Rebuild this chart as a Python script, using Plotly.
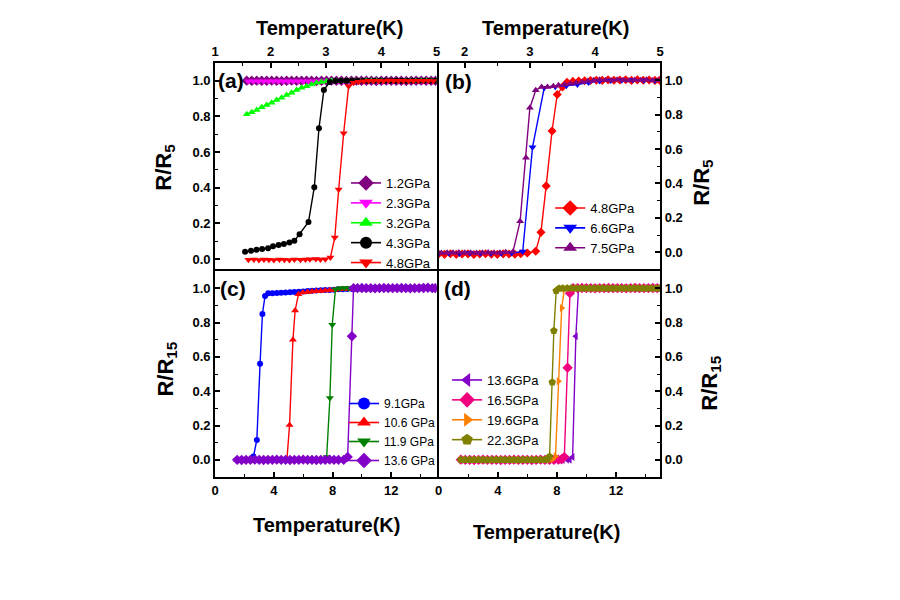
import plotly.graph_objects as go

# ---------------- Panel (a) data: R/R5 vs T (K) ----------------
A_T_12 = [1.57, 1.66, 1.75, 1.84, 1.93, 2.02, 2.11, 2.20, 2.29, 2.38, 2.47, 2.56, 2.65, 2.74, 2.83, 2.92, 3.01,
          3.10, 3.19, 3.28, 3.37, 3.46, 3.55, 3.64, 3.73, 3.82, 3.91, 4.00, 4.09, 4.18, 4.27, 4.36, 4.45, 4.54,
          4.63, 4.72, 4.81, 4.90, 4.98]
A_R_12 = [1.001, 1.000, 1.001, 1.000, 1.000, 1.001, 1.000, 0.999, 1.000, 1.001, 1.000, 1.000, 1.001, 1.000, 0.999,
          1.000, 1.000, 1.001, 1.000, 1.000, 0.999, 1.000, 1.001, 1.000, 1.000, 1.000, 0.999, 1.000, 1.001, 1.000,
          1.000, 1.000, 0.999, 1.000, 1.000, 1.001, 1.000, 1.000, 1.000]

A_T_23 = [1.60, 1.69, 1.78, 1.87, 1.96, 2.05, 2.14, 2.23, 2.32, 2.41, 2.50, 2.59, 2.68, 2.77, 2.86, 2.95, 3.04,
          3.13, 3.22, 3.31, 3.40, 3.49, 3.58, 3.67, 3.76, 3.85, 3.94, 4.03, 4.12, 4.21, 4.30, 4.39, 4.48, 4.57,
          4.66, 4.75, 4.84, 4.93]
A_R_23 = [0.997, 0.998, 0.997, 0.998, 0.998, 0.997, 0.998, 0.998, 0.997, 0.998, 0.998, 0.997, 0.998, 0.998, 0.997,
          0.998, 0.998, 0.997, 0.998, 0.998, 0.997, 0.998, 0.998, 0.997, 0.998, 0.998, 0.997, 0.998, 0.998, 0.997,
          0.998, 0.998, 0.997, 0.998, 0.998, 0.997, 0.998, 0.998]

A_T_32 = [1.57, 1.66, 1.75, 1.84, 1.93, 2.02, 2.11, 2.20, 2.29, 2.38, 2.47, 2.56, 2.65, 2.74, 2.83, 2.92, 3.01,
          3.10, 3.19, 3.28, 3.37, 3.46, 3.55, 3.64, 3.73, 3.82, 3.91, 4.00, 4.09, 4.18, 4.27, 4.36, 4.45, 4.54,
          4.63, 4.72, 4.81, 4.90, 4.99]
A_R_32 = [0.812, 0.823, 0.836, 0.851, 0.864, 0.877, 0.892, 0.905, 0.920, 0.933, 0.948, 0.961, 0.970, 0.980, 0.989,
          0.994, 0.998, 1.000, 0.999, 1.000, 1.001, 1.000, 1.000, 0.999, 1.000, 1.001, 1.000, 1.000, 0.999, 1.000,
          1.001, 1.000, 1.000, 1.000, 0.999, 1.000, 1.001, 1.000, 1.000]

A_T_43 = [1.54, 1.647, 1.747, 1.848, 1.955, 2.044, 2.145, 2.24, 2.34, 2.43, 2.524, 2.685, 2.79, 2.874, 2.963, 3.07,
          3.17, 3.27, 3.37, 3.47, 3.57, 3.67, 3.77, 3.87, 3.97, 4.07, 4.17, 4.27, 4.37, 4.47, 4.57, 4.67, 4.77,
          4.87, 4.97]
A_R_43 = [0.041, 0.046, 0.052, 0.056, 0.061, 0.071, 0.078, 0.084, 0.093, 0.102, 0.139, 0.208, 0.403, 0.734, 0.948,
          0.994, 0.999, 1.000, 1.000, 1.001, 1.000, 1.000, 0.999, 1.000, 1.000, 1.001, 1.000, 1.000, 1.000, 0.999,
          1.000, 1.000, 1.001, 1.000, 1.000]

A_T_48 = [1.60, 1.70, 1.79, 1.88, 1.97, 2.06, 2.16, 2.25, 2.34, 2.43, 2.54, 2.63, 2.71, 2.82, 2.90, 2.99, 3.08,
          3.16, 3.23, 3.32, 3.41, 3.50, 3.59, 3.68, 3.77, 3.86, 3.95, 4.04, 4.13, 4.22, 4.31, 4.40, 4.49, 4.58,
          4.67, 4.76, 4.85, 4.94]
A_R_48 = [-0.004, -0.002, -0.005, -0.003, -0.004, -0.006, -0.003, -0.004, -0.005, -0.002, -0.004, -0.003, -0.001,
          0.000, -0.002, -0.001, 0.008, 0.121, 0.390, 0.706, 0.970, 0.989, 0.995, 0.998, 1.000, 1.001, 1.000, 0.999,
          1.002, 1.000, 1.001, 1.000, 0.999, 1.000, 1.001, 1.000, 1.000, 0.999]

# ---------------- Panel (b) data ----------------
B_T_48 = [1.60, 1.69, 1.78, 1.87, 1.96, 2.05, 2.14, 2.23, 2.32, 2.41, 2.50, 2.59, 2.68, 2.77, 2.86, 2.96, 3.09,
          3.17, 3.25, 3.34, 3.42, 3.50, 3.57, 3.66, 3.75, 3.84, 3.93, 4.02, 4.11, 4.20, 4.29, 4.38, 4.47, 4.56,
          4.65, 4.74, 4.83, 4.92, 4.99]
B_R_48 = [-0.010, -0.012, -0.008, -0.012, -0.010, -0.009, -0.013, -0.010, -0.008, -0.011, -0.012, -0.009, -0.010,
          -0.011, -0.008, -0.004, 0.006, 0.116, 0.386, 0.705, 0.917, 0.961, 0.988, 0.993, 0.995, 0.997, 0.998, 1.000,
          0.999, 1.002, 1.000, 1.001, 1.003, 0.999, 1.002, 1.000, 1.001, 0.999, 1.000]

B_T_66 = [1.60, 1.76, 1.92, 2.08, 2.24, 2.40, 2.56, 2.72, 2.89, 3.04, 3.22, 3.39, 3.56, 3.73, 3.90, 4.07, 4.24,
          4.41, 4.58, 4.75, 4.92]
B_R_66 = [-0.006, -0.005, -0.007, -0.004, -0.006, -0.005, -0.006, -0.004, 0.004, 0.610, 0.956, 0.962, 0.968, 0.975,
          0.986, 0.995, 0.999, 1.000, 1.001, 1.000, 0.999]

B_T_75 = [1.64, 1.73, 1.82, 1.91, 2.00, 2.09, 2.18, 2.27, 2.36, 2.45, 2.54, 2.63, 2.74, 2.85, 2.94, 3.00, 3.09,
          3.18, 3.27, 3.36, 3.44, 3.53, 3.62, 3.71, 3.80, 3.89, 3.98, 4.07, 4.16, 4.25, 4.34, 4.43, 4.52, 4.61,
          4.70, 4.79, 4.88, 4.97]
B_R_75 = [-0.004, -0.002, -0.003, -0.001, -0.003, -0.002, -0.004, -0.002, -0.001, -0.003, -0.002, 0.000, 0.003,
          0.180, 0.550, 0.840, 0.942, 0.961, 0.961, 0.965, 0.970, 0.975, 0.980, 0.985, 0.990, 0.995, 1.000, 1.003,
          1.000, 0.998, 1.002, 1.000, 0.999, 1.001, 1.000, 1.002, 0.999, 1.000]

# ---------------- Panel (c) data: R/R15 ----------------
C_T_91 = [1.5, 1.8, 2.1, 2.4, 2.61, 2.84, 3.06, 3.22, 3.40, 3.62, 3.9, 4.2, 4.5, 4.8, 5.1, 5.4, 5.7, 6.0, 6.3, 6.6,
          6.9, 7.2, 7.5, 7.8, 8.1, 8.4, 8.7, 9.0, 9.3, 9.6, 9.9, 10.2, 10.5, 10.8, 11.1, 11.4, 11.7, 12.0, 12.3,
          12.6, 12.9, 13.2, 13.5, 13.8, 14.1, 14.4, 14.7, 15.0]
C_R_91 = [0.000, 0.001, 0.000, 0.001, 0.020, 0.116, 0.560, 0.850, 0.955, 0.970, 0.971, 0.972, 0.974, 0.975, 0.976,
          0.978, 0.979, 0.981, 0.983, 0.985, 0.986, 0.988, 0.989, 0.990, 0.991, 0.993, 0.994, 0.995, 0.996, 0.997,
          0.998, 0.998, 0.999, 1.000, 1.000, 1.001, 1.000, 1.000, 1.002, 1.000, 1.001, 1.000, 1.000, 1.001, 1.004,
          1.002, 1.000, 1.000]

C_T_106 = [1.5, 1.8, 2.1, 2.4, 2.7, 3.0, 3.3, 3.6, 3.9, 4.2, 4.5, 4.89, 5.07, 5.30, 5.45, 5.68, 5.97, 6.3, 6.6,
           6.9, 7.2, 7.5, 7.8, 8.1, 8.4, 8.7, 9.0, 9.3, 9.6, 9.9, 10.2, 10.5, 10.8, 11.1, 11.4, 11.7, 12.0, 12.3,
           12.6, 12.9, 13.2, 13.5, 13.8, 14.1, 14.4, 14.7, 15.0]
C_R_106 = [0.000, -0.001, 0.000, 0.001, 0.000, -0.001, 0.000, 0.001, 0.000, 0.000, -0.001, 0.002, 0.203, 0.700,
           0.870, 0.965, 0.975, 0.978, 0.980, 0.982, 0.984, 0.986, 0.988, 0.990, 0.992, 0.994, 0.995, 0.996, 0.997,
           0.998, 0.999, 1.000, 0.999, 1.000, 1.001, 1.000, 0.999, 1.000, 1.001, 1.000, 1.000, 0.999, 1.000, 1.001,
           1.000, 1.000, 1.000]

C_T_119 = [1.5, 1.8, 2.1, 2.4, 2.7, 3.0, 3.3, 3.6, 3.9, 4.2, 4.5, 4.8, 5.1, 5.4, 5.7, 6.0, 6.3, 6.6, 6.9, 7.2,
           7.45, 7.60, 7.82, 7.98, 8.20, 8.5, 8.8, 9.1, 9.4, 9.7, 10.0, 10.3, 10.6, 10.9, 11.2, 11.5, 11.8, 12.1,
           12.4, 12.7, 13.0, 13.3, 13.6, 13.9, 14.2, 14.5, 14.8]
C_R_119 = [0.000, 0.001, 0.000, -0.001, 0.000, 0.001, 0.000, 0.000, -0.001, 0.000, 0.001, 0.000, 0.000, -0.001,
           0.000, 0.001, 0.000, 0.000, 0.001, 0.000, 0.002, 0.017, 0.360, 0.787, 0.994, 1.000, 1.001, 1.000, 0.999,
           1.000, 1.000, 1.001, 1.000, 1.000, 0.999, 1.000, 1.001, 1.000, 1.000, 1.000, 0.999, 1.000, 1.001, 1.000,
           1.000, 1.000, 1.000]

C_T_136 = [1.5, 1.8, 2.1, 2.4, 2.7, 3.0, 3.3, 3.6, 3.9, 4.2, 4.5, 4.8, 5.1, 5.4, 5.7, 6.0, 6.3, 6.6, 6.9, 7.2,
           7.5, 7.8, 8.1, 8.4, 8.76, 9.03, 9.32, 9.43, 9.7, 10.0, 10.3, 10.6, 10.9, 11.2, 11.5, 11.8, 12.1, 12.4,
           12.7, 13.0, 13.3, 13.6, 13.9, 14.2, 14.5, 14.8, 15.0]
C_R_136 = [0.000, -0.001, 0.000, 0.000, 0.001, 0.000, -0.001, 0.000, 0.000, 0.001, 0.000, 0.000, -0.001, 0.000,
           0.000, 0.001, 0.000, 0.000, -0.001, 0.000, 0.000, 0.001, 0.000, 0.000, 0.000, 0.017, 0.720, 1.000, 1.000,
           1.001, 1.000, 1.000, 0.999, 1.000, 1.001, 1.000, 1.000, 1.000, 1.001, 1.000, 0.999, 1.000, 1.000, 1.001,
           1.002, 1.000, 1.000]

# ---------------- Panel (d) data ----------------
D_T_136 = [1.5, 1.8, 2.1, 2.4, 2.7, 3.0, 3.3, 3.6, 3.9, 4.2, 4.5, 4.8, 5.1, 5.4, 5.7, 6.0, 6.3, 6.6, 6.9, 7.2,
           7.5, 7.8, 8.1, 8.4, 8.7, 8.88, 9.07, 9.29, 9.47, 9.8, 10.1, 10.4, 10.7, 11.0, 11.3, 11.6, 11.9, 12.2,
           12.5, 12.8, 13.1, 13.4, 13.7, 14.0, 14.3, 14.6, 14.9]
D_R_136 = [0.000, 0.000, 0.001, 0.000, -0.001, 0.000, 0.000, 0.001, 0.000, 0.000, 0.000, -0.001, 0.000, 0.001,
           0.000, 0.000, 0.000, -0.001, 0.000, 0.000, 0.001, 0.000, 0.000, -0.001, 0.000, 0.000, 0.017, 0.720, 1.000,
           1.000, 1.001, 1.000, 1.000, 1.000, 0.999, 1.000, 1.000, 1.001, 1.000, 1.000, 1.000, 0.999, 1.000, 1.000,
           1.001, 1.000, 1.000]

D_T_165 = [1.5, 1.8, 2.1, 2.4, 2.7, 3.0, 3.3, 3.6, 3.9, 4.2, 4.5, 4.8, 5.1, 5.4, 5.7, 6.0, 6.3, 6.6, 6.9, 7.2,
           7.5, 7.8, 8.1, 8.32, 8.51, 8.73, 8.89, 9.10, 9.4, 9.7, 10.0, 10.3, 10.6, 10.9, 11.2, 11.5, 11.8, 12.1,
           12.4, 12.7, 13.0, 13.3, 13.6, 13.9, 14.2, 14.5, 14.8]
D_R_165 = [0.001, 0.000, 0.000, -0.001, 0.000, 0.001, 0.000, 0.000, 0.000, -0.001, 0.000, 0.000, 0.001, 0.000,
           0.000, 0.000, -0.001, 0.000, 0.001, 0.000, 0.000, 0.000, 0.001, 0.003, 0.017, 0.536, 0.971, 1.000, 1.000,
           1.001, 1.000, 1.000, 0.999, 1.000, 1.000, 1.001, 1.000, 1.000, 1.000, 0.999, 1.000, 1.001, 1.000, 1.000,
           1.000, 1.001, 1.000]

D_T_196 = [1.5, 1.8, 2.1, 2.4, 2.7, 3.0, 3.3, 3.6, 3.9, 4.2, 4.5, 4.8, 5.1, 5.4, 5.7, 6.0, 6.3, 6.6, 6.9, 7.2,
           7.5, 7.72, 7.91, 8.11, 8.33, 8.51, 8.8, 9.1, 9.4, 9.7, 10.0, 10.3, 10.6, 10.9, 11.2, 11.5, 11.8, 12.1,
           12.4, 12.7, 13.0, 13.3, 13.6, 13.9, 14.2, 14.5, 14.8]
D_R_196 = [0.000, 0.001, 0.000, 0.000, 0.000, -0.001, 0.000, 0.000, 0.001, 0.000, 0.000, 0.000, -0.001, 0.000,
           0.000, 0.001, 0.000, 0.000, 0.000, 0.000, 0.001, 0.004, 0.020, 0.458, 0.884, 0.996, 1.000, 1.000, 1.001,
           1.000, 1.000, 1.000, 0.999, 1.000, 1.000, 1.001, 1.000, 1.000, 1.000, 1.000, 0.999, 1.000, 1.000, 1.001,
           1.000, 1.000, 1.000]

D_T_223 = [1.5, 1.8, 2.1, 2.4, 2.7, 3.0, 3.3, 3.6, 3.9, 4.2, 4.5, 4.8, 5.1, 5.4, 5.7, 6.0, 6.3, 6.6, 6.9, 7.2,
           7.35, 7.51, 7.69, 7.80, 7.96, 8.15, 8.40, 8.7, 9.0, 9.3, 9.6, 9.9, 10.2, 10.5, 10.8, 11.1, 11.4, 11.7,
           12.0, 12.3, 12.6, 12.9, 13.2, 13.5, 13.8, 14.1, 14.4, 14.7, 14.95]
D_R_223 = [0.000, 0.000, 0.001, 0.000, 0.000, 0.000, -0.001, 0.000, 0.000, 0.001, 0.000, 0.000, 0.000, -0.001,
           0.000, 0.000, 0.001, 0.000, 0.000, 0.000, 0.002, 0.019, 0.452, 0.752, 0.985, 0.998, 1.000, 1.000, 1.001,
           1.000, 1.000, 1.000, 0.999, 1.000, 1.000, 1.001, 1.000, 1.000, 1.000, 0.999, 1.000, 1.000, 1.001, 1.000,
           1.000, 1.000, 1.000, 1.000, 1.000]

X_TICKS_AB = [1, 2, 3, 4, 5]
X_TICKS_CD = [0, 4, 8, 12]
Y_TICKS = [0.0, 0.2, 0.4, 0.6, 0.8, 1.0]

# series: (panel, name, T, R, color, symbol, marker size)
SERIES = [
    ("a", "1.2GPa", A_T_12, A_R_12, "#800080", "diamond", 8),
    ("a", "2.3GPa", A_T_23, A_R_23, "#FF00FF", "triangle-down", 7),
    ("a", "3.2GPa", A_T_32, A_R_32, "#00FF00", "triangle-up", 7),
    ("a", "4.3GPa", A_T_43, A_R_43, "#000000", "circle", 6),
    ("a", "4.8GPa", A_T_48, A_R_48, "#FF0000", "triangle-down", 7),
    ("b", "4.8GPa", B_T_48, B_R_48, "#FF0000", "diamond", 7),
    ("b", "6.6GPa", B_T_66, B_R_66, "#0000FF", "triangle-down", 7),
    ("b", "7.5GPa", B_T_75, B_R_75, "#800080", "triangle-up", 7),
    ("c", "9.1GPa", C_T_91, C_R_91, "#0000FF", "circle", 6),
    ("c", "10.6 GPa", C_T_106, C_R_106, "#FF0000", "triangle-up", 7),
    ("c", "11.9 GPa", C_T_119, C_R_119, "#008000", "triangle-down", 7),
    ("c", "13.6 GPa", C_T_136, C_R_136, "#8200C8", "diamond", 8),
    ("d", "13.6GPa", D_T_136, D_R_136, "#8200C8", "triangle-left", 7),
    ("d", "16.5GPa", D_T_165, D_R_165, "#F0007F", "diamond", 8),
    ("d", "19.6GPa", D_T_196, D_R_196, "#FF8000", "triangle-right", 7),
    ("d", "22.3GPa", D_T_223, D_R_223, "#808000", "pentagon", 8),
]

W, H = 900, 600
OFF = 8  # page body margin
FONT = "Liberation Sans, Arial, sans-serif"


def px(x):
    return (x - OFF) / W


def py(y):
    return 1 - (y - OFF) / H


AXES = {"a": ("x", "y", "legend"), "b": ("x2", "y2", "legend2"),
        "c": ("x3", "y3", "legend3"), "d": ("x4", "y4", "legend4")}

fig = go.Figure()
for panel, name, T, R, color, symbol, size in SERIES:
    xa, ya, lg = AXES[panel]
    fig.add_trace(go.Scatter(
        x=T, y=R, name=name, mode="lines+markers", xaxis=xa, yaxis=ya, showlegend=False,
        line=dict(color=color, width=1.4),
        marker=dict(color=color, symbol=symbol, size=size),
    ))
# legend keys (no data of their own): larger symbols as in the original legends
for panel, name, T, R, color, symbol, size in SERIES:
    xa, ya, lg = AXES[panel]
    fig.add_trace(go.Scatter(
        x=[None], y=[None], name=name, mode="lines+markers", xaxis=xa, yaxis=ya, legend=lg,
        showlegend=True, line=dict(color=color, width=1.6),
        marker=dict(color=color, symbol=symbol, size=12),
    ))

LW = 2
XL, XM, XR = 213, 437.5, 662
YT, YM, YB = 63, 270, 477

common = dict(showline=True, linecolor="black", linewidth=LW, mirror=True, ticks="inside", ticklen=5,
              tickwidth=1.5, tickcolor="black", showgrid=False, zeroline=False,
              tickfont=dict(family=FONT, size=13, color="black", weight="bold"))
minor_y = dict(ticks="inside", ticklen=3, dtick=0.1, tickcolor="black", tickwidth=1.2)
minor_ab = dict(ticks="inside", ticklen=3, dtick=0.5, tickcolor="black", tickwidth=1.2)
minor_cd = dict(ticks="inside", ticklen=3, dtick=2, tickcolor="black", tickwidth=1.2)

fig.update_layout(
    width=W, height=H, margin=dict(l=0, r=0, t=0, b=0),
    paper_bgcolor="white", plot_bgcolor="white", showlegend=True,
    xaxis=dict(domain=[px(XL), px(XM - LW / 2)], anchor="y", side="top", range=[1, 5], tickvals=X_TICKS_AB,
               minor=minor_ab, **common),
    yaxis=dict(domain=[py(YM - LW / 2), py(YT)], anchor="x", side="left", range=[-0.056, 1.1],
               tickvals=Y_TICKS, tickformat=".1f", minor=minor_y, **common),
    xaxis2=dict(domain=[px(XM + LW / 2), px(XR)], anchor="y2", side="top", range=[1.6, 5], tickvals=X_TICKS_AB,
                minor=minor_ab, **common),
    yaxis2=dict(domain=[py(YM - LW / 2), py(YT)], anchor="x2", side="right", range=[-0.097, 1.1],
                tickvals=Y_TICKS, tickformat=".1f", minor=minor_y, **common),
    xaxis3=dict(domain=[px(XL), px(XM - LW / 2)], anchor="y3", side="bottom", range=[0, 15.1],
                tickvals=X_TICKS_CD, minor=minor_cd, **common),
    yaxis3=dict(domain=[py(YB), py(YM + LW / 2)], anchor="x3", side="left", range=[-0.1, 1.1],
                tickvals=Y_TICKS, tickformat=".1f", minor=minor_y, **common),
    xaxis4=dict(domain=[px(XM + LW / 2), px(XR)], anchor="y4", side="bottom", range=[0, 15],
                tickvals=X_TICKS_CD, minor=minor_cd, **common),
    yaxis4=dict(domain=[py(YB), py(YM + LW / 2)], anchor="x4", side="right", range=[-0.1, 1.1],
                tickvals=Y_TICKS, tickformat=".1f", minor=minor_y, **common),
)

leg_common = dict(bgcolor="rgba(0,0,0,0)", borderwidth=0, tracegroupgap=0, itemsizing="trace",
                  xanchor="left", yanchor="top", itemwidth=30)
fig.update_layout(
    legend=dict(x=px(345), y=py(168), font=dict(family=FONT, size=13, color="black"), **leg_common),
    legend2=dict(x=px(551), y=py(193), font=dict(family=FONT, size=13, color="black"), **leg_common),
    legend3=dict(x=px(343), y=py(389), font=dict(family=FONT, size=12, color="black"), **leg_common),
    legend4=dict(x=px(447), y=py(365), font=dict(family=FONT, size=13, color="black"), **leg_common),
)

ann = []
title_font = dict(family=FONT, size=20, color="black", weight="bold")
for x, y, t in [(328, 28, "Temperature(K)"), (556, 28, "Temperature(K)"),
                (325, 525, "Temperature(K)"), (547, 532, "Temperature(K)")]:
    ann.append(dict(x=px(x), y=py(y), xref="paper", yref="paper", text=t, showarrow=False,
                    xanchor="center", yanchor="middle", font=title_font))
for x, y, t in [(162, 167, "R/R<sub>5</sub>"), (705, 182, "R/R<sub>5</sub>"),
                (164, 369, "R/R<sub>15</sub>"), (713, 383, "R/R<sub>15</sub>")]:
    ann.append(dict(x=px(x), y=py(y), xref="paper", yref="paper", text=t, showarrow=False, textangle=-90,
                    xanchor="center", yanchor="middle", font=dict(family=FONT, size=22, color="black", weight="bold")))
for x, y, t in [(229, 80, "(a)"), (458, 81, "(b)"), (231, 288, "(c)"), (457, 288, "(d)")]:
    ann.append(dict(x=px(x), y=py(y), xref="paper", yref="paper", text=t, showarrow=False,
                    xanchor="center", yanchor="middle", font=dict(family=FONT, size=21, color="black", weight="bold")))
fig.update_layout(annotations=ann)

fig.write_html("out.html")
